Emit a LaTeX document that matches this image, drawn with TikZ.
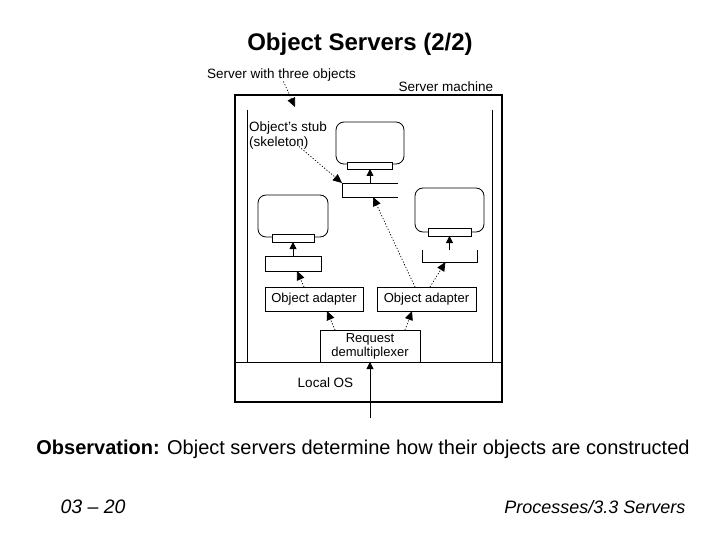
\documentclass[tikz,border=0pt]{standalone}
\usepackage{fontspec}
\setmainfont{Liberation Sans}
\usetikzlibrary{arrows.meta,positioning}

\tikzset{
  box/.style={draw, rectangle, line width=0.8pt, inner sep=0pt, outer sep=0pt,
    font=\fontsize{13}{14}\selectfont},
  object/.style={draw, rectangle, rounded corners=8pt, line width=0.8pt, inner sep=0pt, outer sep=0pt},
  stubbar/.style={draw, fill=white, rectangle, line width=0.8pt, inner sep=0pt, outer sep=0pt},
  hidden/.style={rectangle, inner sep=0pt, outer sep=0pt},
  lbl/.style={inner sep=0pt, font=\fontsize{13.5}{15}\selectfont},
  dotarrow/.style={-{Triangle[length=9pt,width=8pt]}, line width=0.7pt, dash pattern=on 1.2pt off 1.8pt},
  solidarrow/.style={-{Triangle[length=7pt,width=7pt]}, line width=0.8pt}
}

\begin{document}
\begin{tikzpicture}[x=1pt, y=-1pt]
    \useasboundingbox (0,0) rectangle (720,540);

    \node[font=\fontsize{24}{28}\selectfont\bfseries] at (360, 44)(title){Object Servers (2/2)};

    \node[draw, line width=1.2pt, minimum width=267pt, minimum height=307pt, inner sep=0pt] at (368.5, 248.5)(machine){};
    \draw[line width=0.8pt] (247, 110) -- (247, 362);
    \draw[line width=0.8pt] (492, 110) -- (492, 362);
    \draw[line width=0.8pt] (235, 362) -- (502, 362);

    \node[lbl] at (281.5, 75)(three){Server with three objects};
    \node[lbl] at (446, 87)(machinelbl){Server machine};
    \node[lbl, anchor=west, align=left] at (249, 135.5)(stublbl){Object's stub\\(skeleton)};
    \node[lbl] at (325.5, 383)(os){Local OS};
    \coordinate (threetip) at (295, 107);
    \coordinate (net) at (370, 418);

    \node[box, minimum width=100pt, minimum height=32pt, align=center] at (370, 346)(demux){Request\\demultiplexer};
    \node[box, minimum width=98pt, minimum height=24pt] at (314, 299)(adapterL){Object adapter};
    \node[box, minimum width=99pt, minimum height=24pt] at (426.5, 299)(adapterR){Object adapter};

    \node[object, minimum width=70pt, minimum height=42pt] at (293, 216)(objL){};
    \node[stubbar, minimum width=42pt, minimum height=8pt] at (293, 238)(stubL){};
    \node[box, minimum width=56pt, minimum height=15pt] at (293, 263.5)(skelL){};

    \node[object, minimum width=68pt, minimum height=42pt] at (370, 143)(objM){};
    \node[stubbar, minimum width=45pt, minimum height=7pt] at (370, 165.5)(stubM){};
    \node[hidden, minimum width=56pt, minimum height=14pt] at (370, 190)(skelM){};
    \draw[line width=0.8pt] (skelM.north east) -- (skelM.north west) -- (skelM.south west) -- (skelM.south east);

    \node[object, minimum width=69pt, minimum height=44pt] at (449.5, 210)(objR){};
    \node[stubbar, minimum width=43pt, minimum height=8pt] at (449.5, 232)(stubR){};
    \node[hidden, minimum width=55pt, minimum height=12pt] at (449.5, 256)(skelR){};
    \draw[line width=0.8pt] (skelR.north west) -- (skelR.south west) -- (skelR.south east) -- (skelR.north east);

    \path[dotarrow]
    ([xshift=15pt]demux.north west)edge([xshift=13pt]adapterL.south)
    ([xshift=-15pt]demux.north east)edge([xshift=-14.5pt]adapterR.south)
    ([xshift=-10pt]adapterL.north)edge([xshift=4pt]skelL.south)
    ([xshift=3.5pt]adapterR.north)edge([xshift=-4pt]skelR.south)
    ([xshift=-11.5pt]adapterR.north)edge([xshift=3pt]skelM.south)
    ([xshift=50pt, yshift=3pt]stublbl.south west)edge(skelM.north west)
    ([xshift=2pt]three.south)edge(threetip)
    ;

    \path[solidarrow]
    (skelL.north)edge(stubL.south)
    (skelM.north)edge(stubM.south)
    (skelR.north)edge(stubR.south)
    (net)edge(demux.south)
    ;

    \node[anchor=center, font=\fontsize{20}{24}\selectfont] at (363, 449)(obs){\textbf{Observation:} Object servers determine how their objects are constructed};
    \node[anchor=west, font=\fontsize{19.5}{24}\selectfont\itshape] at (57, 507)(page){03 -- 20};
    \node[anchor=east, font=\fontsize{18}{24}\selectfont\itshape] at (689, 507)(section){Processes/3.3 Servers};
\end{tikzpicture}
\end{document}
